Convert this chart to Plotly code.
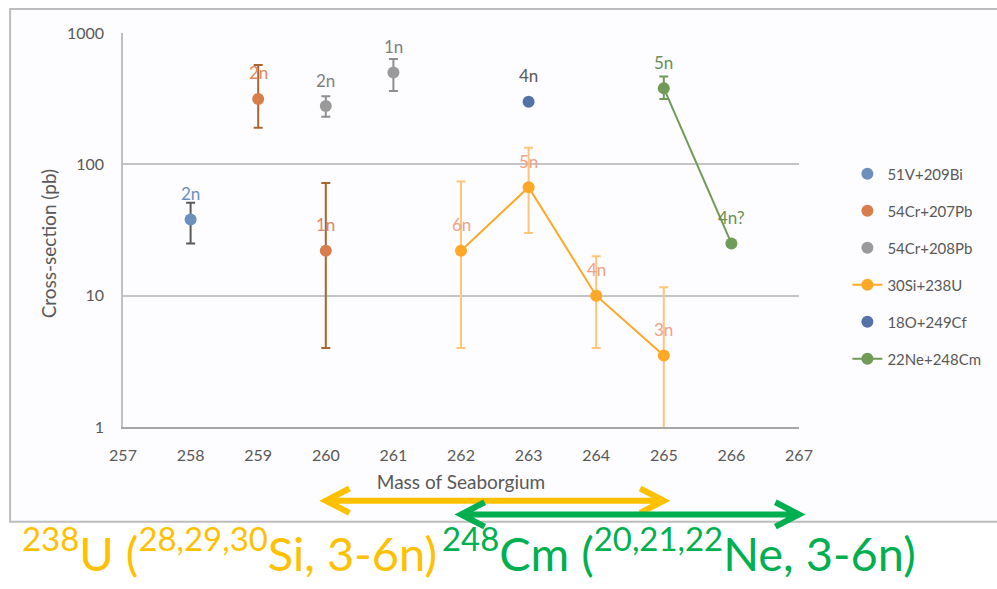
import math
import plotly.graph_objects as go

# Axis ranges
MASS_MIN, MASS_MAX = 257, 267
mass_ticks = list(range(257, 268))
xs_ticks = [1, 10, 100, 1000]

# 51V + 209Bi
v_mass = [258]
v_xs = [38]
v_hi = [51]
v_lo = [25]
v_chan = ["2n"]

# 54Cr + 207Pb
cr207_mass = [259, 260]
cr207_xs = [315, 22]
cr207_hi = [570, 72]
cr207_lo = [190, 4]
cr207_chan = ["2n", "1n"]

# 54Cr + 208Pb
cr208_mass = [260, 261]
cr208_xs = [278, 500]
cr208_hi = [330, 635]
cr208_lo = [230, 362]
cr208_chan = ["2n", "1n"]

# 30Si + 238U
si_mass = [262, 263, 264, 265]
si_xs = [22, 67, 10, 3.5]
si_hi = [74, 134, 20, 11.6]
si_lo = [4, 30, 4, 0.8]
si_chan = ["6n", "5n", "4n", "3n"]

# 18O + 249Cf
o_mass = [263]
o_xs = [300]
o_chan = ["4n"]

# 22Ne + 248Cm
ne_mass = [265, 266]
ne_xs = [380, 25]
ne_hi = [466, 25]
ne_lo = [315, 25]
ne_chan = ["5n", "4n?"]

# Mass ranges reachable by the two hot-fusion reactions
u_range = [260, 265]
cm_range = [262, 267]

FONT = "Lato"
GREY_TXT = "#595959"

series = [
    dict(name="51V+209Bi", x=v_mass, y=v_xs, hi=v_hi, lo=v_lo, chan=v_chan,
         color="#6C8FBE", err="#5A5A5A", txt="#6C8FBE", mode="markers"),
    dict(name="54Cr+207Pb", x=cr207_mass, y=cr207_xs, hi=cr207_hi, lo=cr207_lo, chan=cr207_chan,
         color="#D87D4C", err="#A9652F", txt="#E0875C", mode="markers"),
    dict(name="54Cr+208Pb", x=cr208_mass, y=cr208_xs, hi=cr208_hi, lo=cr208_lo, chan=cr208_chan,
         color="#9A9A9A", err="#8E8E8E", txt="#7F7F7F", mode="markers"),
    dict(name="30Si+238U", x=si_mass, y=si_xs, hi=si_hi, lo=si_lo, chan=si_chan,
         color="#FFA826", err="#FFC579", txt="#EFA285", mode="lines+markers"),
    dict(name="18O+249Cf", x=o_mass, y=o_xs, hi=None, lo=None, chan=o_chan,
         color="#5572A8", err=None, txt="#595959", mode="markers"),
    dict(name="22Ne+248Cm", x=ne_mass, y=ne_xs, hi=ne_hi, lo=ne_lo, chan=ne_chan,
         color="#6F9A57", err="#6F9A57", txt="#6A8F50", mode="lines+markers"),
]

fig = go.Figure()
annotations = []
for i, s in enumerate(series):
    err = None
    if s["hi"] is not None:
        err = dict(type="data", symmetric=False,
                   array=[h - v for h, v in zip(s["hi"], s["y"])],
                   arrayminus=[v - l for l, v in zip(s["lo"], s["y"])],
                   color=s["err"], thickness=2, width=4.5)
    fig.add_trace(go.Scatter(
        x=s["x"], y=s["y"], name=s["name"], mode=s["mode"],
        marker=dict(color=s["color"], size=12),
        line=dict(color=s["color"], width=2),
        error_y=err, legendgroup=f"g{i}",
    ))
    # exit-channel label above each point (annotation y on a log axis is log10)
    for xv, yv, t in zip(s["x"], s["y"], s["chan"]):
        annotations.append(dict(x=xv, y=math.log10(yv), xref="x", yref="y",
                                text=t, showarrow=False, yshift=26,
                                font=dict(family=FONT, size=17, color=s["txt"])))


def mx(m):
    """mass value -> paper x fraction"""
    return (m - MASS_MIN) / (MASS_MAX - MASS_MIN)


def double_arrow(x0, x1, yp, color):
    hx = 0.35 / (MASS_MAX - MASS_MIN)  # head length in paper units
    hy = 0.031                         # head half-height in paper units
    a, b = mx(x0), mx(x1)
    path = (f"M{a},{yp} L{b},{yp} "
            f"M{a + hx},{yp + hy} L{a},{yp} L{a + hx},{yp - hy} "
            f"M{b - hx},{yp + hy} L{b},{yp} L{b - hx},{yp - hy}")
    return dict(type="path", xref="paper", yref="paper", path=path,
                line=dict(color=color, width=6), layer="above")


shapes = [
    # chart frame
    dict(type="rect", xref="paper", yref="paper", x0=-0.167, x1=1.30, y0=-0.2404, y1=1.061,
         line=dict(color="#BDBDBD", width=2), fillcolor="#FDFCFE", layer="below"),
    double_arrow(u_range[0], u_range[1], -0.187, "#FFC000"),
    double_arrow(cm_range[0], cm_range[1], -0.222, "#00B050"),
]

annotations += [
    # y-axis title
    dict(xref="paper", yref="paper", x=-0.111, y=0.466, xanchor="center", yanchor="middle",
         text="Cross-section (pb)", textangle=-90, showarrow=False,
         font=dict(family=FONT, size=19, color=GREY_TXT)),
    dict(xref="paper", yref="paper", x=-0.153, y=-0.312, xanchor="left", yanchor="middle",
         text="<sup>238</sup>U (<sup>28,29,30</sup>Si, 3-6n)", showarrow=False,
         font=dict(family=FONT, size=47, color="#FFC000")),
    dict(xref="paper", yref="paper", x=0.469, y=-0.312, xanchor="left", yanchor="middle",
         text="<sup>248</sup>Cm (<sup>20,21,22</sup>Ne, 3-6n)", showarrow=False,
         font=dict(family=FONT, size=47, color="#00B050")),
]

fig.update_layout(
    width=997, height=589,
    margin=dict(l=123, r=197, t=33, b=162),
    paper_bgcolor="white", plot_bgcolor="rgba(0,0,0,0)",
    font=dict(family=FONT, size=16, color=GREY_TXT),
    showlegend=True,
    legend=dict(x=1.07, y=0.684, xanchor="left", yanchor="top",
                font=dict(family=FONT, size=15, color=GREY_TXT),
                tracegroupgap=14.5, bgcolor="rgba(0,0,0,0)"),
    xaxis=dict(range=[MASS_MIN, MASS_MAX], tickvals=mass_ticks, showgrid=False,
               zeroline=False, showline=True, linecolor="#A6A6A6", linewidth=2,
               ticks="", ticklabelstandoff=13,
               tickfont=dict(family=FONT, size=16, color=GREY_TXT),
               title=dict(text="Mass of Seaborgium", standoff=12,
                          font=dict(family=FONT, size=19, color=GREY_TXT))),
    yaxis=dict(type="log", range=[0, 3], tickvals=xs_ticks, ticktext=[str(t) for t in xs_ticks],
               showgrid=True, gridcolor="#C4C4C4", gridwidth=1.5, zeroline=False,
               showline=True, linecolor="#BFBFBF", linewidth=1.5, ticks="",
               ticklabelstandoff=14,
               tickfont=dict(family=FONT, size=16, color=GREY_TXT)),
    shapes=shapes,
    annotations=annotations,
)

fig.write_html("out.html")
